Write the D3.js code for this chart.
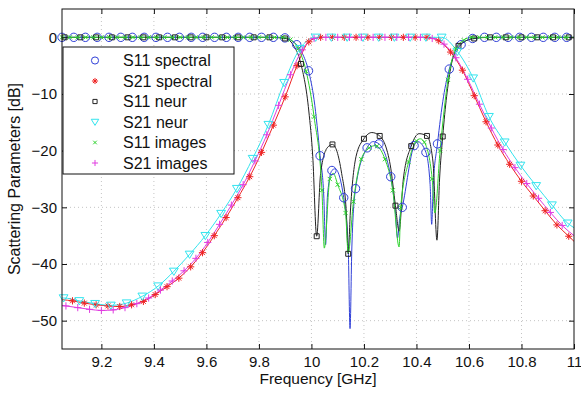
<!DOCTYPE html>
<html>
<head>
<meta charset="utf-8">
<script src="https://cdn.jsdelivr.net/npm/d3@7"></script>
<style>
  body { margin: 0; background: #fff; }
  svg { font-family: "Liberation Sans", Arial, sans-serif; }
</style>
</head>
<body>
<div id="chart"></div>
<script>
// Scattering parameters of a filter: spectral / neural / images methods
// Each series: marker points [GHz, dB] plus extra points that only shape the line

const xDomain = [9.05, 11];
const yDomain = [-55, 5];
const xTicks = [9.2, 9.4, 9.6, 9.8, 10, 10.2, 10.4, 10.6, 10.8, 11];
const yTicks = [0, -10, -20, -30, -40, -50];

const s11Spectral = [
  [9.050,0],[9.095,0],[9.139,0],[9.184,0],[9.229,0],[9.274,0],[9.318,0],[9.363,0],[9.408,0],
  [9.452,0],[9.497,0],[9.542,0],[9.586,0],[9.631,0],[9.676,0],[9.721,0],[9.765,0],[9.810,0],
  [9.855,0],[9.899,-0.1],[9.944,-1.3],[9.989,-5.9],[10.033,-20.9],[10.078,-23.5],[10.123,-28.3],
  [10.168,-26.7],[10.212,-19.5],[10.257,-18.8],[10.302,-24.6],[10.346,-30.0],[10.391,-19.1],
  [10.436,-20.3],[10.480,-18.8],[10.525,-5.6],[10.570,-1.3],[10.614,-0.2],[10.659,0],[10.704,0],
  [10.749,0],[10.793,0],[10.838,0],[10.883,0],[10.927,0],[10.972,0]
];
const s11SpectralLine = [
  [9.925,-0.6],[9.965,-2.8],[10.010,-11],[10.047,-28],[10.054,-36.6],[10.061,-28],[10.090,-23.2],
  [10.140,-37],[10.147,-51.4],[10.154,-37],[10.235,-18.4],[10.320,-31],[10.328,-35.4],[10.336,-32],
  [10.405,-18.4],[10.452,-26],[10.458,-33],[10.464,-26],[10.503,-10.5],[10.548,-2.8],[11.0,0]
];

const s21Spectral = [
  [9.090,-46.5],[9.135,-46.9],[9.180,-47.2],[9.225,-47.4],[9.270,-47.5],[9.315,-47.2],[9.360,-46.6],
  [9.405,-45.4],[9.450,-44.0],[9.495,-42.5],[9.540,-40.5],[9.585,-38.0],[9.630,-35.0],[9.675,-31.8],
  [9.720,-28.3],[9.765,-24.6],[9.810,-20.3],[9.855,-15.5],[9.900,-10.5],[9.945,-5.0],[9.990,-0.8],
  [10.035,0],[10.080,0],[10.125,0],[10.170,0],[10.215,0],[10.260,0],[10.305,0],[10.350,0],
  [10.395,0],[10.440,0],[10.485,-0.6],[10.530,-2.6],[10.575,-5.8],[10.620,-10.3],[10.665,-14.9],
  [10.710,-19.0],[10.755,-22.4],[10.800,-25.4],[10.845,-28.0],[10.890,-30.6],[10.935,-33.1],[10.980,-35.1]
];
const s21SpectralLine = [[9.05,-46.3],[11.0,-36.0]];

const s11Neur = [
  [9.06,0],[9.12,0],[9.18,0],[9.24,0],[9.30,0],[9.36,0],[9.42,0],[9.48,0],[9.54,0],[9.60,0],
  [9.66,0],[9.72,0],[9.78,0],[9.84,0],[9.90,-0.2],[9.96,-4.7],[10.02,-35.1],[10.08,-18.9],
  [10.14,-38.2],[10.20,-17.9],[10.26,-17.4],[10.32,-29.7],[10.38,-19.2],[10.44,-17.4],[10.50,-17.5],
  [10.56,-1.5],[10.62,-0.2],[10.68,0],[10.74,0],[10.80,0],[10.86,0],[10.92,0],[10.98,0]
];
const s11NeurLine = [
  [9.05,0],[9.93,-1.3],[9.99,-13],[10.005,-21],[10.035,-24],[10.060,-19.5],[10.115,-24],[10.133,-31],
  [10.148,-31],[10.170,-21],[10.230,-16.8],[10.300,-22.5],[10.334,-34.2],[10.350,-25],[10.410,-17],
  [10.463,-22],[10.478,-35.8],[10.488,-25],[10.530,-5.5],[11.0,0]
];

const s21Neur = [
  [9.056,-46.0],[9.116,-46.5],[9.176,-47.0],[9.236,-47.3],[9.296,-46.9],[9.356,-45.7],[9.416,-43.9],
  [9.476,-41.3],[9.536,-38.3],[9.596,-35.0],[9.656,-31.1],[9.716,-26.7],[9.776,-21.4],[9.836,-15.4],
  [9.896,-8.0],[9.956,-2.0],[10.016,0],[10.076,0],[10.136,0],[10.196,0],[10.256,0],[10.316,0],
  [10.376,0],[10.436,0],[10.496,0],[10.556,-2.5],[10.616,-7.2],[10.676,-14.0],[10.736,-18.5],
  [10.796,-22.6],[10.856,-26.2],[10.916,-29.6],[10.976,-32.8]
];
const s21NeurLine = [[9.05,-46.0],[11.0,-33.6]];

const s11Images = [
  [9.05,0],[9.08,0],[9.11,0],[9.14,0],[9.17,0],[9.20,0],[9.23,0],[9.26,0],[9.29,0],[9.32,0],
  [9.35,0],[9.38,0],[9.41,0],[9.44,0],[9.47,0],[9.50,0],[9.53,0],[9.56,0],[9.59,0],[9.62,0],
  [9.65,0],[9.68,0],[9.71,0],[9.74,0],[9.77,0],[9.80,0],[9.83,0],[9.86,0],[9.89,0],[9.92,-0.4],
  [9.95,-2.0],[9.98,-6.0],[10.01,-14],[10.04,-27],[10.07,-25],[10.10,-26],[10.13,-31],[10.16,-29],
  [10.19,-21.5],[10.22,-19.5],[10.25,-19.2],[10.28,-21.5],[10.31,-27],[10.34,-30],[10.37,-22],
  [10.40,-18.3],[10.43,-18.5],[10.46,-25],[10.49,-20],[10.52,-7.5],[10.55,-2.0],[10.58,-0.5],
  [10.61,0],[10.64,0],[10.67,0],[10.70,0],[10.73,0],[10.76,0],[10.79,0],[10.82,0],[10.85,0],
  [10.88,0],[10.91,0],[10.94,0],[10.97,0]
];
const s11ImagesLine = [
  [10.049,-37.2],[10.083,-24],[10.140,-38],[10.245,-19.1],[10.334,-37],[10.415,-17.9],[10.470,-31],[11.0,0]
];

const s21Images = [
  [9.065,-47.4],[9.110,-47.7],[9.155,-48.0],[9.200,-48.2],[9.245,-48.1],[9.290,-47.7],[9.335,-47.0],
  [9.380,-46.0],[9.425,-44.6],[9.470,-43.0],[9.515,-41.2],[9.560,-39.0],[9.605,-36.2],[9.650,-33.0],
  [9.695,-29.6],[9.740,-26.0],[9.785,-21.8],[9.830,-17.2],[9.875,-12.0],[9.920,-6.6],[9.965,-2.2],
  [10.010,-0.2],[10.055,0],[10.100,0],[10.145,0],[10.190,0],[10.235,0],[10.280,0],[10.325,0],
  [10.370,0],[10.415,0],[10.460,-0.2],[10.505,-1.2],[10.550,-3.6],[10.595,-7.4],[10.640,-11.8],
  [10.685,-16.0],[10.730,-19.8],[10.775,-23.0],[10.820,-25.8],[10.865,-28.4],[10.910,-30.9],[10.955,-33.2]
];
const s21ImagesLine = [[9.05,-47.3],[11.0,-35.0]];

const series = [
  { name: 'S11 spectral', pts: s11Spectral, extra: s11SpectralLine, color: '#3040d8', marker: 'circle' },
  { name: 'S21 spectral', pts: s21Spectral, extra: s21SpectralLine, color: '#ee2222', marker: 'star' },
  { name: 'S11 neur',     pts: s11Neur,     extra: s11NeurLine,     color: '#222222', marker: 'square' },
  { name: 'S21 neur',     pts: s21Neur,     extra: s21NeurLine,     color: '#33e4ee', marker: 'tri' },
  { name: 'S11 images',   pts: s11Images,   extra: s11ImagesLine,   color: '#2ed32e', marker: 'x' },
  { name: 'S21 images',   pts: s21Images,   extra: s21ImagesLine,   color: '#e03ce0', marker: 'plus' }
];

// marker shapes, centred on 0,0
const markerPath = {
  circle: s => `M${-s},0a${s},${s} 0 1,0 ${2 * s},0a${s},${s} 0 1,0 ${-2 * s},0`,
  square: s => `M${-s * 0.65},${-s * 0.65}h${s * 1.3}v${s * 1.3}h${-s * 1.3}z`,
  tri: s => `M${-s * 1.1},${-s * 0.8}L${s * 1.1},${-s * 0.8}L0,${s * 1.0}Z`,
  x: s => `M${-s * 0.6},${-s * 0.6}L${s * 0.6},${s * 0.6}M${-s * 0.6},${s * 0.6}L${s * 0.6},${-s * 0.6}`,
  plus: s => `M${-s * 0.9},0H${s * 0.9}M0,${-s * 0.9}V${s * 0.9}`,
  star: s => `M${-s * 0.9},0H${s * 0.9}M0,${-s * 0.9}V${s * 0.9}` +
    `M${-s * 0.6},${-s * 0.6}L${s * 0.6},${s * 0.6}M${-s * 0.6},${s * 0.6}L${s * 0.6},${-s * 0.6}`
};

const W = 581, H = 393;
const margin = { top: 9, right: 7, bottom: 44, left: 62 };
const innerW = W - margin.left - margin.right;
const innerH = H - margin.top - margin.bottom;

const svg = d3.select('#chart').append('svg')
  .attr('width', W).attr('height', H);

const g = svg.append('g')
  .attr('transform', `translate(${margin.left},${margin.top})`);

const x = d3.scaleLinear().domain(xDomain).range([0, innerW]);
const y = d3.scaleLinear().domain(yDomain).range([innerH, 0]);

// grid
g.append('g').selectAll('line').data(xTicks.filter(d => d < 11)).enter().append('line')
  .attr('x1', d => x(d)).attr('x2', d => x(d)).attr('y1', 0).attr('y2', innerH)
  .attr('stroke', '#c4c4c4').attr('stroke-dasharray', '1,3');
g.append('g').selectAll('line').data(yTicks).enter().append('line')
  .attr('x1', 0).attr('x2', innerW).attr('y1', d => y(d)).attr('y2', d => y(d))
  .attr('stroke', '#c4c4c4').attr('stroke-dasharray', '1,3');

g.append('clipPath').attr('id', 'clip')
  .append('rect').attr('width', innerW).attr('height', innerH);

const line = d3.line()
  .x(d => x(d[0])).y(d => y(d[1]))
  .curve(d3.curveMonotoneX);

// lines
series.forEach(s => {
  const all = s.pts.concat(s.extra).sort((a, b) => a[0] - b[0]);
  g.append('path')
    .attr('clip-path', 'url(#clip)')
    .attr('d', line(all))
    .attr('fill', 'none')
    .attr('stroke', s.color)
    .attr('stroke-width', 1);
});

// markers
const markerSize = { circle: 4.2, star: 4, square: 3.8, tri: 4, x: 3.5, plus: 4 };
series.forEach(s => {
  g.append('g').selectAll('path').data(s.pts).enter().append('path')
    .attr('transform', d => `translate(${x(d[0])},${y(d[1])})`)
    .attr('d', markerPath[s.marker](markerSize[s.marker]))
    .attr('fill', 'none')
    .attr('stroke', s.color)
    .attr('stroke-width', 1);
});

// frame
g.append('rect')
  .attr('width', innerW).attr('height', innerH)
  .attr('fill', 'none').attr('stroke', '#111').attr('stroke-width', 1);

const fmt = d3.format('~g');

// axes with inward ticks on all four sides
g.append('g')
  .attr('transform', `translate(0,${innerH})`)
  .call(d3.axisBottom(x).tickValues(xTicks).tickSize(-5).tickPadding(7.5).tickFormat(fmt));
g.append('g')
  .call(d3.axisTop(x).tickValues(xTicks).tickSize(-5).tickFormat(''));
g.append('g')
  .call(d3.axisLeft(y).tickValues(yTicks).tickSize(-5).tickPadding(5).tickFormat(fmt));
g.append('g')
  .attr('transform', `translate(${innerW},0)`)
  .call(d3.axisRight(y).tickValues(yTicks).tickSize(-5).tickFormat(''));

g.selectAll('.domain').remove();
g.selectAll('.tick line').attr('stroke', '#111');
g.selectAll('.tick text')
  .attr('font-family', '"Liberation Sans", Arial, sans-serif')
  .attr('font-size', 15).attr('fill', '#111');

// axis labels
svg.append('text')
  .attr('x', margin.left + innerW / 2)
  .attr('y', 384)
  .attr('text-anchor', 'middle')
  .attr('font-size', 15.5).attr('fill', '#111')
  .text('Frequency [GHz]');

svg.append('text')
  .attr('transform', `translate(20,${margin.top + innerH / 2}) rotate(-90)`)
  .attr('text-anchor', 'middle')
  .attr('font-size', 16).attr('fill', '#111')
  .text('Scattering Parameters [dB]');

// legend
const legend = svg.append('g').attr('transform', 'translate(63,47)');
legend.append('rect')
  .attr('width', 171).attr('height', 127)
  .attr('fill', '#fff').attr('stroke', '#111').attr('stroke-width', 1);

const rows = legend.selectAll('.legend-row')
  .data(series).enter().append('g')
  .attr('class', 'legend-row')
  .attr('transform', (d, i) => `translate(0,${13.5 + i * 20.5})`);

rows.append('path')
  .attr('transform', 'translate(32,0)')
  .attr('d', d => markerPath[d.marker](markerSize[d.marker] * 0.85))
  .attr('fill', 'none')
  .attr('stroke', d => d.color)
  .attr('stroke-width', 1);

rows.append('text')
  .attr('x', 60).attr('y', 5.5)
  .attr('font-size', 16).attr('fill', '#111')
  .text(d => d.name);
</script>
</body>
</html>
